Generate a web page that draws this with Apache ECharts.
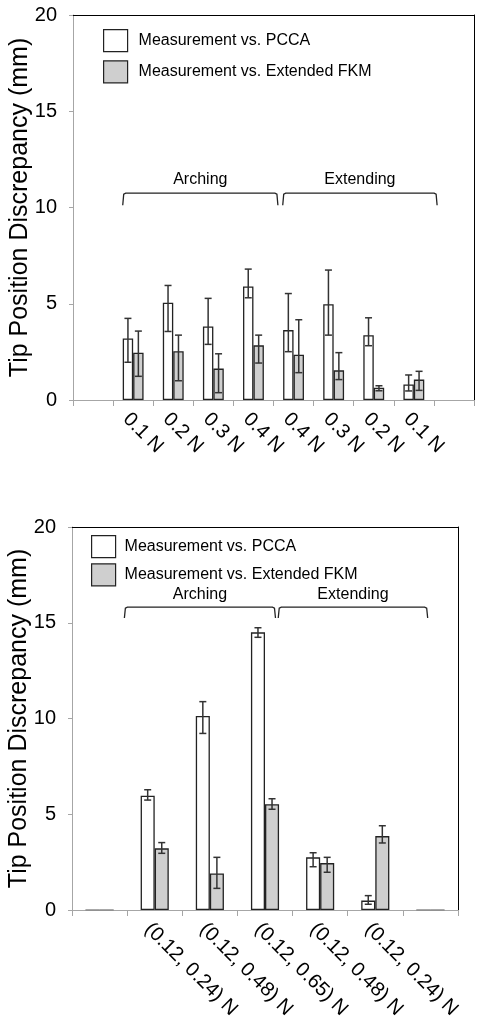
<!DOCTYPE html>
<html><head><meta charset="utf-8">
<script src="https://cdn.jsdelivr.net/npm/echarts@6/dist/echarts.min.js"></script>
<style>html,body{margin:0;padding:0;background:#fff}#c{width:484px;height:1023px}</style>
</head><body><div id="c"></div>
<script>
// ---------- data ----------
const seriesNames = ['Measurement vs. PCCA', 'Measurement vs. Extended FKM'];
const yTitle = 'Tip Position Discrepancy (mm)';

const topCategories = ['', '0.1 N', '0.2 N', '0.3 N', '0.4 N', '0.4 N', '0.3 N', '0.2 N', '0.1 N', ''];
const topPcca      = [null, 3.20, 5.05, 3.82, 5.90, 3.63, 4.98, 3.37, 0.81, null];
const topPccaHigh  = [null, 4.24, 5.95, 5.28, 6.80, 5.53, 6.75, 4.27, 1.30, null];
const topPccaLow   = [null, 1.96, 3.56, 2.89, 5.31, 2.51, 3.37, 2.82, 0.47, null];
const topFkm       = [null, 2.46, 2.53, 1.63, 2.84, 2.35, 1.54, 0.64, 1.06, null];
const topFkmHigh   = [null, 3.58, 3.37, 2.40, 3.37, 4.17, 2.46, 0.74, 1.49, null];
const topFkmLow    = [null, 1.23, 1.00, 0.38, 1.92, 1.42, 1.06, 0.48, 0.50, null];

const botCategories = ['', '(0.12, 0.24) N', '(0.12, 0.48) N', '(0.12, 0.65) N', '(0.12, 0.48) N', '(0.12, 0.24) N', ''];
const botPcca      = [0, 5.97, 10.13, 14.50, 2.75, 0.49, 0];
const botPccaHigh  = [null, 6.28, 10.88, 14.74, 2.99, 0.75, null];
const botPccaLow   = [null, 5.74, 9.22, 14.24, 2.26, 0.30, null];
const botFkm       = [0, 3.22, 1.91, 5.52, 2.45, 3.86, 0];
const botFkmHigh   = [null, 3.52, 2.75, 5.81, 2.75, 4.40, null];
const botFkmLow    = [null, 2.96, 1.13, 5.26, 1.97, 3.50, null];

const groupLabels = ['Arching', 'Extending'];
// bracket spans in category units (from, to) and heights in data units (line, end, text)
const topBrackets = [[0.74, 4.61], [4.73, 8.58]];
const topBracketY = [10.75, 10.12, 11.45];
const botBrackets = [[0.45, 3.19], [3.24, 5.95]];
const botBracketY = [15.82, 15.25, 16.45];

const yMin = 0, yMax = 20, yStep = 5;

// ---------- chart ----------
const FONT = '"Liberation Sans", Arial, sans-serif';
const AXIS_GRAY = '#a6a6a6';
const INK = '#222';

function errData(low, high) {
  const out = [];
  low.forEach((v, i) => { if (v != null && high[i] != null) out.push([i, v, high[i]]); });
  return out;
}

function errRenderer(sign, frac) {
  return function (params, api) {
    const idx = api.value(0), lo = api.value(1), hi = api.value(2);
    const band = api.size([1, 0])[0];
    const pl = api.coord([idx, lo]);
    const ph = api.coord([idx, hi]);
    const x = pl[0] + sign * band * frac / 2;
    const cap = 3.5;
    const st = { stroke: '#333', lineWidth: 1.5 };
    return {
      type: 'group', children: [
        { type: 'line', shape: { x1: x, y1: pl[1], x2: x, y2: ph[1] }, style: st },
        { type: 'line', shape: { x1: x - cap, y1: ph[1], x2: x + cap, y2: ph[1] }, style: st },
        { type: 'line', shape: { x1: x - cap, y1: pl[1], x2: x + cap, y2: pl[1] }, style: st }
      ]
    };
  };
}

function bracketRenderer(spans, ys) {
  return function (params, api) {
    const i = params.dataIndex;
    const band = api.size([1, 0])[0];
    const p0 = api.coord([0, ys[0]]);
    const pe = api.coord([0, ys[1]]);
    const pt = api.coord([0, ys[2]]);
    const x1 = p0[0] + spans[i][0] * band;
    const x2 = p0[0] + spans[i][1] * band;
    return {
      type: 'group', children: [
        { type: 'polyline', shape: { points: [[x1, pe[1]], [x1 + 1, p0[1] + 1], [x1 + 3, p0[1]], [x2 - 3, p0[1]], [x2 - 1, p0[1] + 1], [x2, pe[1]]] },
          style: { stroke: INK, lineWidth: 1.3, fill: null } },
        { type: 'text', style: { text: groupLabels[i], x: (x1 + x2) / 2, y: pt[1], align: 'center', verticalAlign: 'middle',
          font: '16px ' + FONT, fill: '#000' } }
      ]
    };
  };
}

const BAR_FRAC_TOP = 0.26, BAR_FRAC_BOT = 0.255;

function catAxis(grid, cats, fontSize, margin) {
  return {
    type: 'category', gridIndex: grid, data: cats, boundaryGap: true,
    axisLine: { show: true, onZero: false, lineStyle: { color: AXIS_GRAY, width: 1 } },
    axisTick: { show: true, interval: 0, length: 6, lineStyle: { color: AXIS_GRAY } },
    axisLabel: { interval: 0, rotate: -45, fontSize: fontSize, fontFamily: FONT, color: '#000', margin: margin, verticalAlign: 'top' },
    splitLine: { show: false }
  };
}
function frameX(grid, cats) {
  return {
    type: 'category', gridIndex: grid, data: cats, position: 'top',
    axisLine: { show: true, onZero: false, lineStyle: { color: '#000', width: 1 } },
    axisTick: { show: false }, axisLabel: { show: false }, splitLine: { show: false }
  };
}
function valAxis(grid) {
  return {
    type: 'value', gridIndex: grid, min: yMin, max: yMax, interval: yStep,
    name: yTitle, nameLocation: 'middle', nameGap: 40, nameRotate: 90, nameMoveOverlap: false,
    nameTextStyle: { fontSize: 25, fontFamily: FONT, color: '#000' },
    axisLine: { show: true, lineStyle: { color: AXIS_GRAY, width: 1 } },
    axisTick: { show: true, length: 4, lineStyle: { color: AXIS_GRAY } },
    axisLabel: { fontSize: 20, fontFamily: FONT, color: '#000', margin: 16 },
    splitLine: { show: false }
  };
}
function frameY(grid) {
  return {
    type: 'value', gridIndex: grid, min: yMin, max: yMax, interval: yStep, position: 'right',
    axisLine: { show: true, lineStyle: { color: '#000', width: 1 } },
    axisTick: { show: false }, axisLabel: { show: false }, splitLine: { show: false }
  };
}
function bars(grid, name, data, fill, frac) {
  return {
    type: 'bar', name: name, xAxisIndex: grid, yAxisIndex: grid,
    data: data.map(v => v === 0 ? { value: 0, itemStyle: { borderColor: '#8a8a8a', borderWidth: 1 } } : v),
    barWidth: (frac * 100) + '%', barGap: '0%', z: 2,
    itemStyle: { color: fill, borderColor: INK, borderWidth: 1.3 },
    emphasis: { disabled: true }
  };
}
function errs(grid, low, high, sign, frac) {
  return {
    type: 'custom', xAxisIndex: grid, yAxisIndex: grid, z: 4,
    data: errData(low, high), renderItem: errRenderer(sign, frac),
    encode: { x: 0, y: [1, 2] }, silent: true
  };
}
function brackets(grid, spans, ys) {
  return {
    type: 'custom', xAxisIndex: grid, yAxisIndex: grid, z: 5,
    data: spans.map((s, i) => [0, ys[0]]), renderItem: bracketRenderer(spans, ys),
    encode: { x: 0, y: 1 }, silent: true
  };
}
function legend(left, top, gap, textGap) {
  return {
    orient: 'vertical', left: left, top: top, itemWidth: 24, itemHeight: 22, itemGap: gap,
    icon: 'rect', data: seriesNames, selectedMode: false,
    itemStyle: { borderColor: INK, borderWidth: 1.2 },
    textStyle: { fontSize: 16, fontFamily: FONT, color: '#000', padding: [0, 0, 0, textGap - 5] }
  };
}

const chart = echarts.init(document.getElementById('c'), null, { renderer: 'canvas' });
chart.setOption({
  animation: false,
  backgroundColor: '#fff',
  legend: [legend(98, 24, 8, 11), legend(86, 530, 5, 9)],
  grid: [
    { left: 73, top: 15, width: 401, height: 385, containLabel: false, outerBoundsMode: 'none' },
    { left: 72, top: 527, width: 386, height: 383, containLabel: false, outerBoundsMode: 'none' }
  ],
  xAxis: [catAxis(0, topCategories, 20, 9), catAxis(1, botCategories, 20, 9), frameX(0, topCategories), frameX(1, botCategories)],
  yAxis: [valAxis(0), valAxis(1), frameY(0), frameY(1)],
  series: [
    bars(0, seriesNames[0], topPcca, '#ffffff', BAR_FRAC_TOP),
    bars(0, seriesNames[1], topFkm, '#cfcfcf', BAR_FRAC_TOP),
    errs(0, topPccaLow, topPccaHigh, -1, BAR_FRAC_TOP),
    errs(0, topFkmLow, topFkmHigh, 1, BAR_FRAC_TOP),
    brackets(0, topBrackets, topBracketY),
    bars(1, seriesNames[0], botPcca, '#ffffff', BAR_FRAC_BOT),
    bars(1, seriesNames[1], botFkm, '#cfcfcf', BAR_FRAC_BOT),
    errs(1, botPccaLow, botPccaHigh, -1, BAR_FRAC_BOT),
    errs(1, botFkmLow, botFkmHigh, 1, BAR_FRAC_BOT),
    brackets(1, botBrackets, botBracketY)
  ]
});
</script></body></html>
